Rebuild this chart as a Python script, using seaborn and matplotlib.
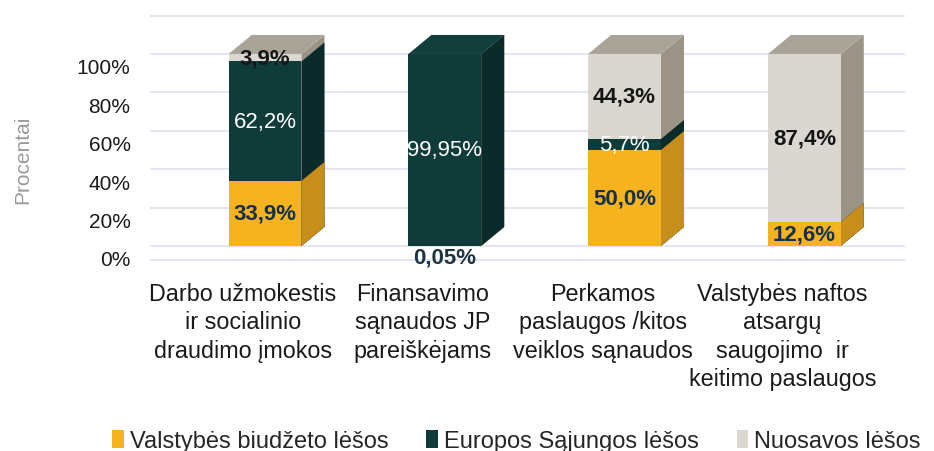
import numpy as np
import pandas as pd
import matplotlib
matplotlib.use("Agg")
import matplotlib.pyplot as plt
import seaborn as sns
from matplotlib.patches import Polygon, Patch
from matplotlib.transforms import ScaledTranslation

# ---------------- data ----------------
categories = [
    "Darbo užmokestis\nir socialinio\ndraudimo įmokos",
    "Finansavimo\nsąnaudos JP\npareiškėjams",
    "Perkamos\npaslaugos /kitos\nveiklos sąnaudos",
    "Valstybės naftos\natsargų\nsaugojimo  ir\nkeitimo paslaugos",
]
series_names = ["Valstybės biudžeto lėšos", "Europos Sąjungos lėšos", "Nuosavos lėšos"]
valstybes = [33.9, 0.05, 50.0, 12.6]
europos = [62.2, 99.95, 5.7, 0.0]
nuosavos = [3.9, 0.0, 44.3, 87.4]
y_ticks = [0, 20, 40, 60, 80, 100, 120]
y_ticklabels = ["0%", "20%", "40%", "60%", "80%", "100%", ""]

# ---------------- style ----------------
FRONT = ["#F5B320", "#0F3C39", "#D9D7D0"]
SIDE = ["#C78E1B", "#0A2B29", "#9B9486"]
TOP = ["#D9A21E", "#123F3C", "#AAA397"]
LABEL_COLORS = ["#15304A", "#FFFFFF", "#151515"]
LABEL_WEIGHTS = ["bold", "normal", "bold"]
BAR_W = 0.405
DX_PX, DY_PX = 23, 19
FONT = ["Liberation Sans", "DejaVu Sans"]

sns.set_theme(style="white")
plt.rcParams["font.family"] = FONT

fig = plt.figure(figsize=(9.34, 4.52), dpi=100)
ax = fig.add_axes([0.1606, 0.4204, 0.8084, 0.5464])

series = [np.array(valstybes), np.array(europos), np.array(nuosavos)]
cums = np.cumsum(np.vstack(series), axis=0)
df = pd.DataFrame({"cat": categories, "c1": cums[0], "c2": cums[1], "c3": cums[2]})

# back-to-front stacked bars
for k, col in [(2, "c3"), (1, "c2"), (0, "c1")]:
    sns.barplot(data=df, x="cat", y=col, color=FRONT[k], width=BAR_W, saturation=1,
                errorbar=None, ax=ax, zorder=3, edgecolor="none", linewidth=0)

ax.set_xlim(-0.64, 3.56)
ax.set_ylim(-7.8, 120.8)

# depth in data units
o = ax.transData.transform((0, 0))
dx, dy = ax.transData.inverted().transform(o + np.array([DX_PX, DY_PX]))

n = len(categories)
order = [2, 1, 0]
for gi, k in enumerate(order):
    for i in range(n):
        p = ax.patches[gi * n + i]
        x0, w, h = p.get_x(), p.get_width(), p.get_height()
        x1 = x0 + w
        side = Polygon([(x1, 0), (x1 + dx, dy), (x1 + dx, h + dy), (x1, h)],
                       closed=True, facecolor=SIDE[k], edgecolor="none", zorder=2.1 + 0.1 * gi)
        ax.add_patch(side)

for i in range(n):
    p = ax.patches[i]
    x0, w, tot = p.get_x(), p.get_width(), p.get_height()
    topk = max(k for k in range(3) if series[k][i] > 0)
    top = Polygon([(x0, tot), (x0 + dx, tot + dy), (x0 + w + dx, tot + dy), (x0 + w, tot)],
                  closed=True, facecolor=TOP[topk], edgecolor="none", zorder=2.6)
    ax.add_patch(top)


def fmt(v):
    s = "%.1f" % v if abs(round(v, 1) - v) < 1e-9 else "%.2f" % v
    return s.replace(".", ",") + "%"


for k in range(3):
    for i in range(n):
        v = series[k][i]
        if v <= 0:
            continue
        base = cums[k][i] - v
        if v < 1 and k == 0:
            yy, col = -5.5, "#1D3445"
        else:
            yy, col = base + v / 2, LABEL_COLORS[k]
        ax.text(i, yy, fmt(v), ha="center", va="center", fontsize=16,
                color=col, fontweight=LABEL_WEIGHTS[k], zorder=5, family=FONT)

# axes styling
ax.set_yticks(y_ticks)
ax.set_yticklabels(y_ticklabels, fontsize=15, color="#1a1a1a")
ax.grid(axis="y", color="#DCE2EC", linewidth=1.2)
ax.set_axisbelow(True)
ax.axhline(-7.3, color="#DCE2EC", linewidth=1.2, zorder=0)
for s in ax.spines.values():
    s.set_visible(False)
ax.tick_params(axis="both", length=0)
ax.tick_params(axis="y", pad=14)
ax.tick_params(axis="x", pad=15)
ax.set_xlabel("")
ax.set_ylabel("")
ax.set_xticks(range(n))
ax.set_xticklabels(categories, fontsize=16.8, color="#1a1a1a", linespacing=1.3)
for lab in ax.get_yticklabels():
    lab.set_transform(lab.get_transform() + ScaledTranslation(0, -0.12, fig.dpi_scale_trans))
for lab in ax.get_xticklabels():
    lab.set_transform(lab.get_transform() + ScaledTranslation(-0.22, 0, fig.dpi_scale_trans))

fig.text(0.024, 0.646, "Procentai", rotation=90, ha="center", va="center",
         fontsize=15, color="#9a9a9a")

handles = [Patch(facecolor=FRONT[k], edgecolor="none", label=series_names[k]) for k in range(3)]
fig.legend(handles=handles, loc="lower center", bbox_to_anchor=(0.553, -0.05), ncol=3,
           frameon=False, fontsize=17, handlelength=0.5, handleheight=0.8,
           handletextpad=0.25, columnspacing=1.6)

fig.savefig("out.png", dpi=100)
